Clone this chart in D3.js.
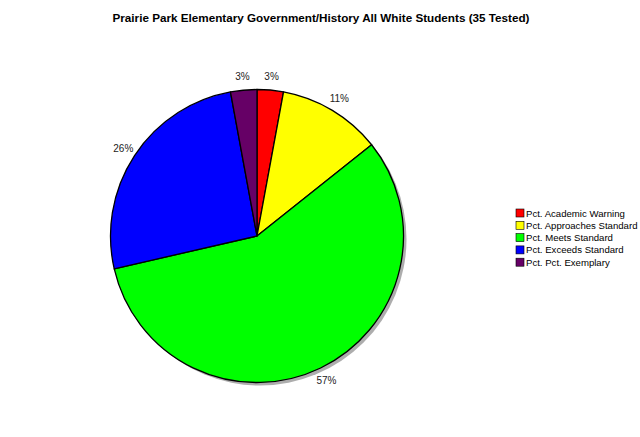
<!DOCTYPE html>
<html><head><meta charset="utf-8">
<script src="https://cdn.jsdelivr.net/npm/d3@7"></script>
<style>body{margin:0;background:#fff}svg{display:block}</style>
</head><body>
<script>
const categories = ["Pct. Academic Warning","Pct. Approaches Standard","Pct. Meets Standard","Pct. Exceeds Standard","Pct. Pct. Exemplary"];
const values = [2.9, 11.4, 57.1, 25.7, 2.9];
const labels = ["3%","11%","57%","26%","3%"];
const colors = ["#ff0000","#ffff00","#00ff00","#0000ff","#660066"];
const title = "Prairie Park Elementary Government/History All White Students (35 Tested)";

const W=640,H=437;
const svg=d3.select("body").append("svg").attr("width",W).attr("height",H);
svg.append("text").attr("x",321).attr("y",22).attr("text-anchor","middle")
  .attr("font-family","Liberation Sans, Arial, sans-serif").attr("font-weight","bold").attr("font-size",11.7)
  .text(title);

const cx=257, cy=236, r=146.5;
const pie=d3.pie().sort(null).value(d=>d)(values);
const arc=d3.arc().innerRadius(0).outerRadius(r);
const g=svg.append("g").attr("transform",`translate(${cx},${cy})`);
g.append("circle").attr("cx",3).attr("cy",3).attr("r",r).attr("fill","#999").attr("opacity",0.8);
g.selectAll("path.s").data(pie).enter().append("path").attr("class","s")
  .attr("d",arc).attr("fill",(d,i)=>colors[i]).attr("stroke","#000").attr("stroke-width",1.3).attr("stroke-linejoin","round");
const la=d3.arc().innerRadius(160).outerRadius(160);
g.selectAll("text.l").data(pie).enter().append("text").attr("class","l")
  .attr("transform",d=>`translate(${la.centroid(d)})`).attr("text-anchor","middle").attr("dy","0.35em")
  .attr("font-family","Liberation Sans, Arial, sans-serif").attr("font-size",10).attr("fill","#222")
  .text((d,i)=>labels[i]);

const lg=svg.append("g").attr("transform","translate(516,209)");
const rows=lg.selectAll("g").data(categories).enter().append("g").attr("transform",(d,i)=>`translate(0,${i*12.3})`);
rows.append("rect").attr("width",8).attr("height",8).attr("fill",(d,i)=>colors[i]).attr("stroke","#000").attr("stroke-width",0.6);
rows.append("text").attr("x",10).attr("y",7.5).attr("font-family","Liberation Sans, Arial, sans-serif").attr("font-size",9.6).attr("fill","#000").text(d=>d);
</script>
</body></html>
